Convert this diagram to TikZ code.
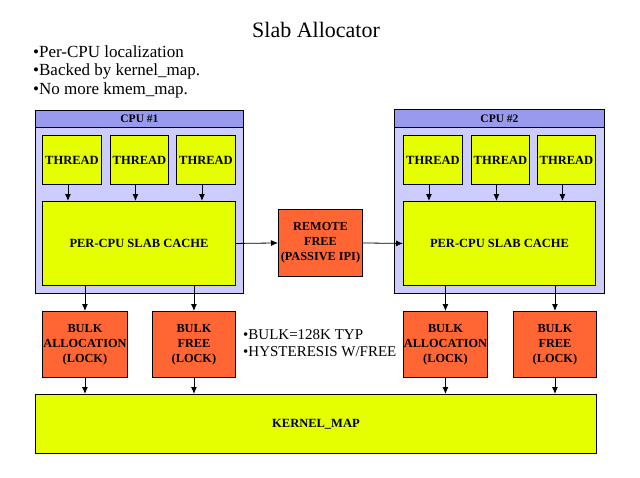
\documentclass[tikz,border=0pt]{standalone}
\usepackage{fontspec}
\setmainfont{Liberation Serif}
\usetikzlibrary{arrows.meta}
\definecolor{ylw}{HTML}{E6FF00}
\definecolor{org}{HTML}{FF6633}
\definecolor{lav}{HTML}{CCCCFF}
\definecolor{lavh}{HTML}{9999EE}
\tikzset{
  box/.style={draw=black, line width=0.9pt, inner sep=0pt, align=center, anchor=north west},
  ybox/.style={box, fill=ylw, font=\fontsize{12.5}{14}\selectfont\bfseries},
  obox/.style={box, fill=org, font=\fontsize{12.3}{15}\selectfont\bfseries},
  cpubox/.style={box, fill=lav},
  cpuhead/.style={box, fill=lavh, font=\fontsize{11.5}{12}\selectfont\bfseries},
  arr/.style={draw=black, line width=0.8pt, -{Latex[length=7pt,width=6pt]}},
  bul/.style={anchor=base west, inner sep=0pt, font=\fontsize{17}{18}\selectfont},
  note/.style={anchor=base west, inner sep=0pt, font=\fontsize{15}{17}\selectfont},
}
\begin{document}
\begin{tikzpicture}[x=1pt,y=-1pt]
\useasboundingbox[fill=white] (0,0) rectangle (640,477);
% title and bullets
\node[anchor=base, inner sep=0pt, font=\fontsize{22}{24}\selectfont] (title) at (316,37) {Slab Allocator};
\node[bul] (b1) at (33,57) {•Per-CPU localization};
\node[bul] (b2) at (33,75.5) {•Backed by kernel\_map.};
\node[bul] (b3) at (33,94) {•No more kmem\_map.};
% CPU 1
\node[cpubox, minimum width=208, minimum height=183] (cpu1) at (35,110) {};
\node[cpuhead, minimum width=208, minimum height=17] (cpu1h) at (35,110) {CPU \#1};
\node[ybox, minimum width=59, minimum height=49] (t11) at (42,135) {THREAD};
\node[ybox, minimum width=58, minimum height=49] (t12) at (110,135) {THREAD};
\node[ybox, minimum width=59, minimum height=49] (t13) at (176,135) {THREAD};
\node[ybox, minimum width=193, minimum height=84] (slab1) at (42,201) {PER-CPU SLAB CACHE};
% CPU 2
\node[cpubox, minimum width=210, minimum height=184] (cpu2) at (394,109) {};
\node[cpuhead, minimum width=210, minimum height=18] (cpu2h) at (394,109) {CPU \#2};
\node[ybox, minimum width=59, minimum height=49] (t21) at (403,135) {THREAD};
\node[ybox, minimum width=58, minimum height=49] (t22) at (471,135) {THREAD};
\node[ybox, minimum width=58, minimum height=49] (t23) at (537,135) {THREAD};
\node[ybox, minimum width=192, minimum height=84] (slab2) at (403,201) {PER-CPU SLAB CACHE};
% remote free
\node[obox, minimum width=84, minimum height=67] (rf) at (278,209) {REMOTE\\FREE\\(PASSIVE IPI)};
% bulk boxes
\node[obox, minimum width=85, minimum height=66] (ba1) at (42,311) {BULK\\ALLOCATION\\(LOCK)};
\node[obox, minimum width=83, minimum height=66] (bf1) at (152,311) {BULK\\FREE\\(LOCK)};
\node[obox, minimum width=84, minimum height=66] (ba2) at (403,311) {BULK\\ALLOCATION\\(LOCK)};
\node[obox, minimum width=83, minimum height=66] (bf2) at (513,311) {BULK\\FREE\\(LOCK)};
% kernel map
\node[ybox, minimum width=561, minimum height=59] (km) at (35,394) {KERNEL\_MAP};
% note
\node[note] (n1) at (243,339) {•BULK=128K TYP};
\node[note] (n2) at (243,356) {•HYSTERESIS W/FREE};
% arrows threads -> slab
\foreach \t/\s in {t11/slab1,t12/slab1,t13/slab1,t21/slab2,t22/slab2,t23/slab2}{
  \draw[arr] ([xshift=-4pt]\t.south) -- ([xshift=-4pt]\t.south |- \s.north);
}
% slab -> remote -> slab
\draw[arr] (slab1.east) -- (rf.west);
\draw[arr] (rf.east) -- (slab2.west);
% slab -> bulk
\draw[arr] (ba1.north |- slab1.south) -- (ba1.north);
\draw[arr] (bf1.north |- slab1.south) -- (bf1.north);
\draw[arr] (ba2.north |- slab2.south) -- (ba2.north);
\draw[arr] (bf2.north |- slab2.south) -- (bf2.north);
% bulk -> kernel map
\draw[arr] (ba1.south) -- (ba1.south |- km.north);
\draw[arr] (bf1.south) -- (bf1.south |- km.north);
\draw[arr] (ba2.south) -- (ba2.south |- km.north);
\draw[arr] (bf2.south) -- (bf2.south |- km.north);
\end{tikzpicture}
\end{document}
